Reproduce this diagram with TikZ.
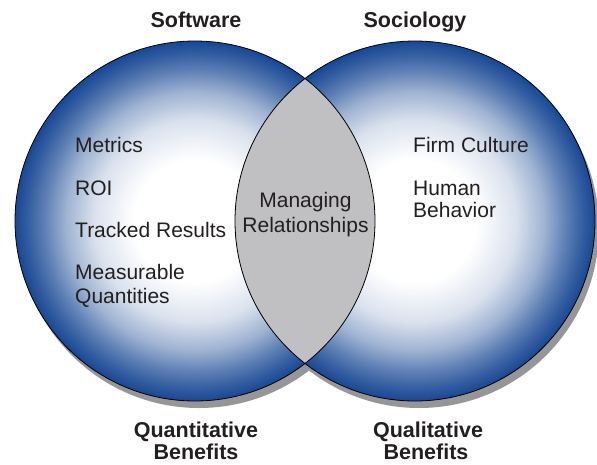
\documentclass[tikz,border=0pt]{standalone}
\usepackage{fontspec}
\setmainfont{Liberation Sans}

\definecolor{vennblue}{RGB}{24,72,148}
\colorlet{vennA}{vennblue!16!white}
\colorlet{vennB}{vennblue!42!white}
\colorlet{vennC}{vennblue!70!white}
\colorlet{vennD}{vennblue!90!white}
\definecolor{lensgray}{RGB}{192,192,195}
\definecolor{shadowgray}{RGB}{150,150,152}
\definecolor{ink}{RGB}{35,31,32}

% white core fading to deep blue at the rim
\pgfdeclareradialshading{vennball}{\pgfpointorigin}{%
  color(0bp)=(white); color(8.5bp)=(white); color(14bp)=(vennA);
  color(18bp)=(vennB); color(21bp)=(vennC); color(23.5bp)=(vennD);
  color(25bp)=(vennblue); color(50bp)=(vennblue)}

\tikzset{
  venn/.style={circle, inner sep=0pt, minimum size=360pt, shading=vennball},
  vshadow/.style={circle, inner sep=0pt, minimum size=360pt, fill=shadowgray},
  rim/.style={draw=black, line width=0.8pt},
  itemtext/.style={inner sep=0pt, text=ink, font=\fontsize{21}{24}\selectfont},
  headtext/.style={inner sep=0pt, text=ink, font=\fontsize{21.5}{24}\selectfont\bfseries, anchor=base},
}

\begin{document}
\begin{tikzpicture}[x=1pt, y=-1pt]
\useasboundingbox (0,0) rectangle (597,464);

% drop shadows
\node[vshadow] (softshadow) at (199,228) {};
\node[vshadow] (socshadow) at (419,228) {};

% the two circles
\node[venn] (soft) at (195,221) {};
\node[venn] (soc) at (415,221) {};

% overlap
\begin{scope}
  \clip (soft.center) circle[radius=180pt];
  \fill[lensgray] (soc.center) circle[radius=180pt];
\end{scope}

% outlines
\draw[rim] (soft.center) circle[radius=180pt];
\draw[rim] (soc.center) circle[radius=180pt];

% headings
\node[headtext] (software) at (196,27) {Software};
\node[headtext] (sociology) at (415,27) {Sociology};
\node[headtext] (quant) at (196,437) {Quantitative};
\node[headtext] (quantb) at (196,459) {Benefits};
\node[headtext] (qual) at (428,437) {Qualitative};
\node[headtext] (qualb) at (426,459) {Benefits};

% left circle items
\node[itemtext, anchor=base west] (metrics) at (75,152) {Metrics};
\node[itemtext, anchor=base west] (roi) at (75,195) {ROI};
\node[itemtext, anchor=base west] (tracked) at (75,237) {Tracked Results};
\node[itemtext, anchor=base west] (measurable) at (75,279) {Measurable};
\node[itemtext, anchor=base west] (quantities) at (75,303) {Quantities};

% overlap items
\node[itemtext, anchor=base] (managing) at (305.5,207) {Managing};
\node[itemtext, anchor=base] (relations) at (305.5,232) {Relationships};

% right circle items
\node[itemtext, anchor=base west] (firm) at (413,152) {Firm Culture};
\node[itemtext, anchor=base west] (human) at (413,195) {Human};
\node[itemtext, anchor=base west] (behavior) at (413,217) {Behavior};
\end{tikzpicture}
\end{document}
